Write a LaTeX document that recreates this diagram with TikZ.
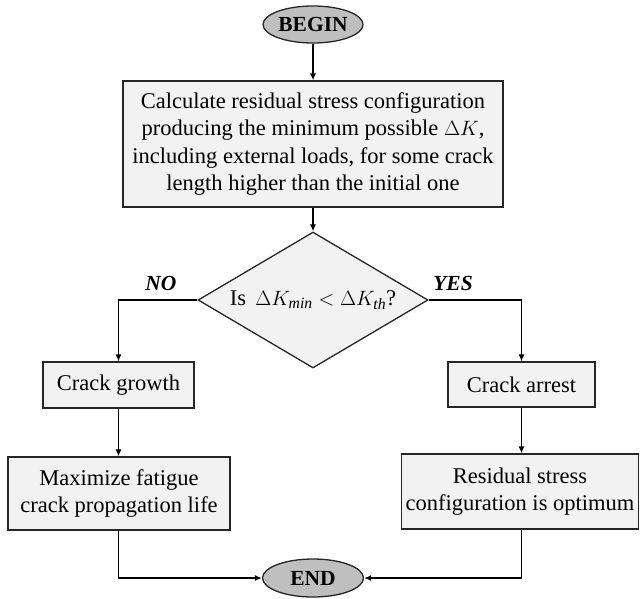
\documentclass[tikz,border=0pt]{standalone}
\usepackage{fontspec}
\setmainfont{Liberation Serif}
\usetikzlibrary{shapes.geometric,arrows.meta}
\definecolor{boxfill}{HTML}{F2F2F2}
\definecolor{ovalfill}{HTML}{BFBFBF}
\definecolor{edge}{HTML}{262626}
\tikzset{
  every node/.style={font=\fontsize{22.5}{27.5}\selectfont, text=black},
  procbox/.style={draw=edge, line width=1.3pt, fill=boxfill, rectangle, align=center, inner sep=0pt},
  termoval/.style={draw=edge, line width=1.3pt, fill=ovalfill, ellipse, inner sep=0pt, font=\fontsize{21.5}{24}\selectfont\bfseries},
  decbox/.style={draw=edge, line width=1.3pt, fill=boxfill, diamond, aspect=1.69, inner sep=0pt},
  flow/.style={draw=black, line width=1.3pt, -{Latex[length=7pt,width=6pt]}},
  branchlbl/.style={font=\fontsize{21.5}{24}\selectfont\bfseries\itshape}
}
\begin{document}
\begin{tikzpicture}[x=1pt,y=-1pt]
\useasboundingbox (0,0) rectangle (640,598);
\node[termoval, minimum width=100pt, minimum height=37pt] (begin) at (313,24.5) {BEGIN};
\node[procbox, minimum width=380pt, minimum height=126pt] (calc) at (313,144)
  {Calculate residual stress configuration\\producing the minimum possible $\Delta K$,\\including external loads, for some crack\\length higher than the initial one};
\node[decbox, minimum width=230pt, minimum height=136pt] (dec) at (313,300)
  {Is\, $\Delta K_{\mathit{min}} < \Delta K_{\mathit{th}}$?};
\node[procbox, minimum width=151pt, minimum height=46pt] (growth) at (118.5,385) {Crack growth};
\node[procbox, minimum width=222pt, minimum height=73pt] (maxl) at (119,493.5)
  {Maximize fatigue\\crack propagation life};
\node[procbox, minimum width=147pt, minimum height=45pt] (arrest) at (521.5,384.5) {Crack arrest};
\node[procbox, minimum width=237pt, minimum height=75pt] (resid) at (520,491.5)
  {Residual stress\\configuration is optimum};
\node[termoval, minimum width=101pt, minimum height=38pt] (end) at (313,578) {END};
\node[branchlbl] (no) at (161,283) {NO};
\node[branchlbl] (yes) at (453,283) {YES};
\draw[flow] (begin) -- (calc);
\draw[flow] (calc) -- (dec);
\draw[flow] (dec.west) -| (growth.north);
\draw[flow] (dec.east) -| (arrest.north);
\draw[flow] (growth) -- (growth|-maxl.north);
\draw[flow] (arrest) -- (arrest|-resid.north);
\draw[flow] (maxl.south-|growth) |- (end.west);
\draw[flow] (resid.south-|arrest) |- (end.east);
\end{tikzpicture}
\end{document}
